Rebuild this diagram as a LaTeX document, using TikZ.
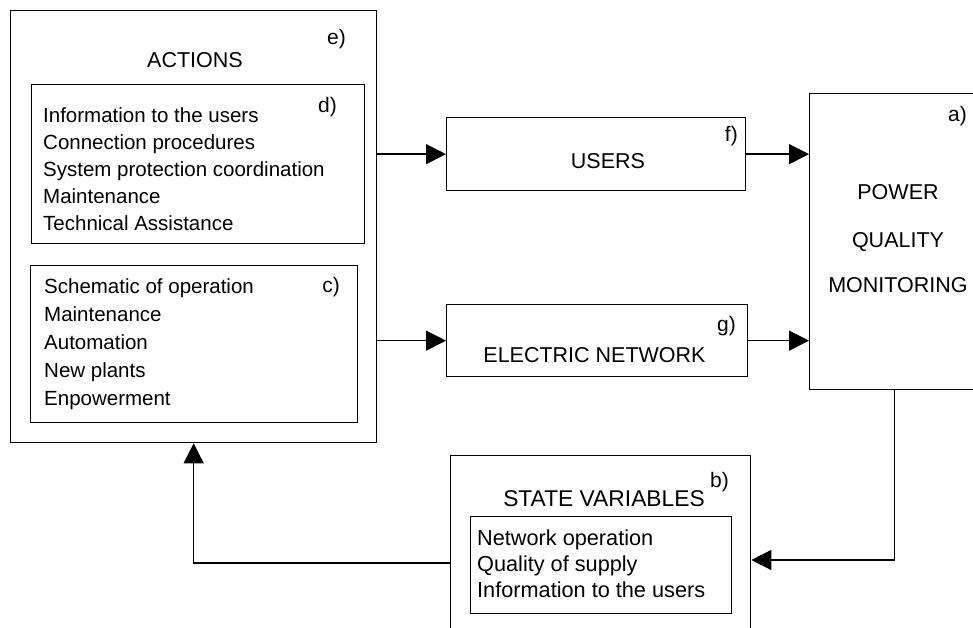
\documentclass[tikz,border=0pt]{standalone}
\usepackage{fontspec}
\setmainfont{Liberation Sans}
\usetikzlibrary{arrows.meta,calc}
\begin{document}
\begin{tikzpicture}[x=1pt,y=-1pt,
  box/.style={draw,line width=1.3pt,rectangle,inner sep=0pt,anchor=north west},
  body/.style={inner sep=0pt,anchor=base west,font=\fontsize{20.5}{24}\selectfont},
  bodyb/.style={inner sep=0pt,anchor=base west,font=\fontsize{21.7}{24}\selectfont},
  head/.style={inner sep=0pt,anchor=base,font=\fontsize{21.5}{25}\selectfont},
  lab/.style={inner sep=0pt,anchor=base east,font=\fontsize{21}{25}\selectfont},
  arr/.style={line width=1.3pt,-{Triangle[length=20pt,width=20pt]}},
  ln/.style={line width=1.3pt}]
\useasboundingbox (0,0) rectangle (973,628);
\clip (0,0) rectangle (973,628);
\fill[white] (0,0) rectangle (973,628);
% boxes
\node[box,minimum width=366pt,minimum height=432pt] (e) at (10,10) {};
\node[box,minimum width=333pt,minimum height=159pt] (d) at (31,84) {};
\node[box,minimum width=327pt,minimum height=157pt] (c) at (30,265) {};
\node[box,minimum width=299pt,minimum height=73pt] (users) at (446,117) {};
\node[box,minimum width=301pt,minimum height=72pt] (elec) at (446,304) {};
\node[box,minimum width=181pt,minimum height=296pt] (pqm) at (809,93) {};
\node[box,minimum width=300pt,minimum height=194pt] (bout) at (450,455) {};
\node[box,minimum width=261pt,minimum height=97pt] (bin) at (470,516) {};
% headings
\node[head] (hact) at (195,68) {ACTIONS};
\node[head] (husers) at (608,169) {USERS};
\node[head] (helec) at (594.5,362) {ELECTRIC NETWORK};
\node[head] (hp1) at (898,200) {POWER};
\node[head] (hp2) at (898,247) {QUALITY};
\node[head] (hp3) at (898,292) {MONITORING};
\node[head,font=\fontsize{22.8}{25}\selectfont] (hstate) at (604,506) {STATE VARIABLES};
% labels
\node[lab] (le) at (346,45) {e)};
\node[lab] (ld) at (337,113) {d)};
\node[lab] (lc) at (340,292) {c)};
\node[lab] (lf) at (738,142) {f)};
\node[lab] (lg) at (736,331) {g)};
\node[lab] (la) at (967,122) {a)};
\node[lab] (lb) at (729,487) {b)};
% body text
\foreach \t [count=\i] in {Information to the users,Connection procedures,System protection coordination,Maintenance,Technical Assistance}
  \node[body,name=dt\i] at (43,{122.5+27*(\i-1)}) {\t};
\foreach \t [count=\i] in {Schematic of operation,Maintenance,Automation,New plants,Enpowerment}
  \node[body,name=ct\i] at (44,{293+28*(\i-1)}) {\t};
\foreach \t [count=\i] in {Network operation,Quality of supply,Information to the users}
  \node[bodyb,name=bt\i] at (477,{545+26*(\i-1)}) {\t};
% connectors
\draw[arr] (e.east |- users.west) -- (users.west);
\draw[arr] (e.east |- elec.west) -- (elec.west);
\draw[arr] (users.east) -- (users.east -| pqm.west);
\draw[arr] (elec.east) -- (elec.east -| pqm.west);
\coordinate (pqmout) at ([xshift=-5.5pt]pqm.south);
\draw[arr] (pqmout) |- (bout.east |- 0,560);
\draw[arr] (bout.west |- 0,563) -| (e.south);
\end{tikzpicture}
\end{document}
